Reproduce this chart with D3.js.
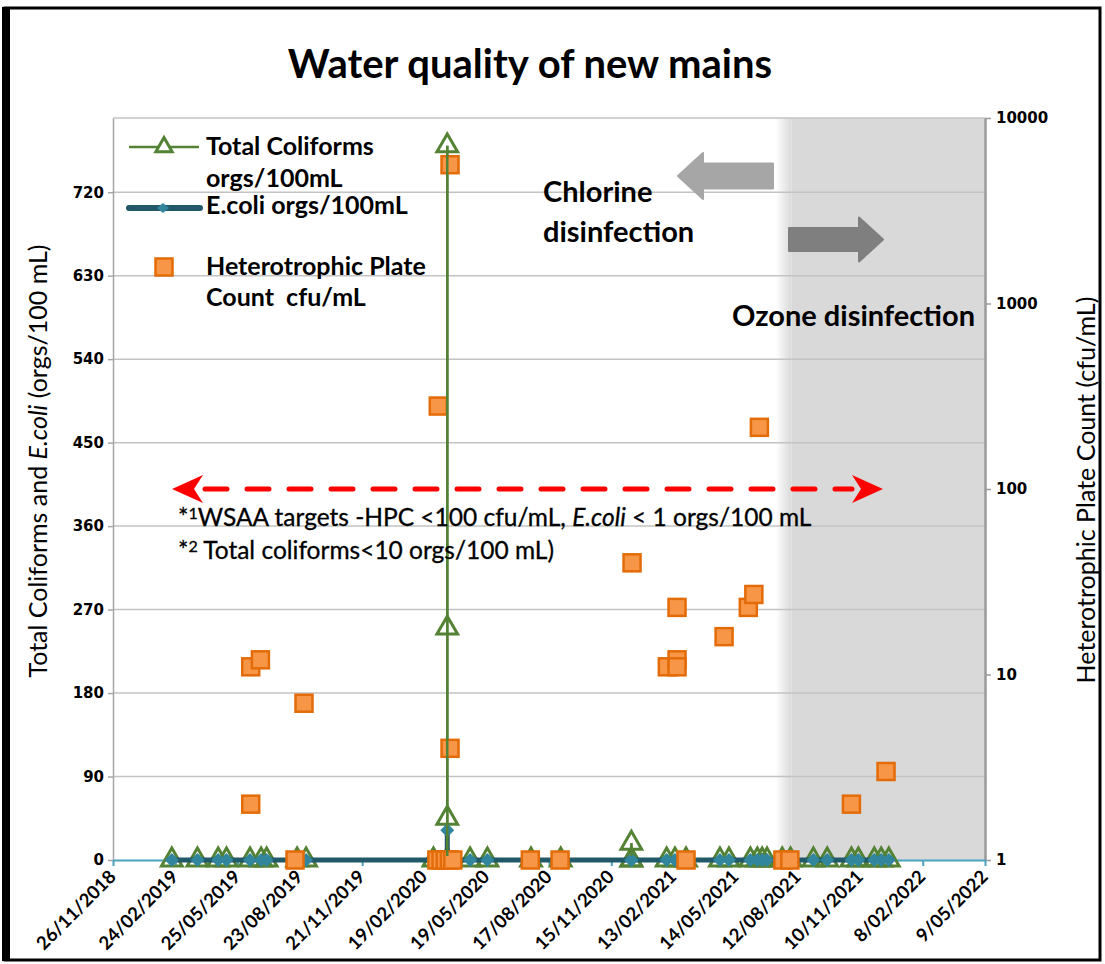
<!DOCTYPE html>
<html><head><meta charset="utf-8">
<script src="https://cdn.jsdelivr.net/npm/d3@7"></script>
<style>body{margin:0;background:#fff}svg{display:block}</style>
</head><body>
<script>
// ---------------- DATA ----------------
const tcDates = ["2019-02-19","2019-03-28","2019-04-27","2019-05-09","2019-06-12","2019-06-28","2019-07-06","2019-08-19","2019-09-01",
  "2020-03-03","2020-03-23","2020-03-23","2020-03-23","2020-03-23","2020-03-23","2020-04-25","2020-05-20","2020-07-22","2020-09-03",
  "2020-12-14","2020-12-14","2020-12-14","2021-02-03","2021-02-15","2021-03-03","2021-04-21","2021-05-04","2021-06-04","2021-06-14",
  "2021-06-21","2021-06-28","2021-07-20","2021-08-01","2021-09-03","2021-09-23","2021-10-28","2021-11-07","2021-11-30",
  "2021-12-10","2021-12-21"];
const tcValues = [0,0,0,0,0,0,0,0,0,
  0,0,45,770,250,0,0,0,0,0,
  0,18,0,0,0,0,0,0,0,0,
  0,0,0,0,0,0,0,0,0,
  0,0];
const ecDates = tcDates;
const ecValues = [0,0,0,0,0,0,0,0,0,
  0,0,32,0,0,0,0,0,0,0,
  0,0,0,0,0,0,0,0,0,0,
  0,0,0,0,0,0,0,0,0,
  0,0];
const hpcDates = ["2019-06-13","2019-06-13","2019-06-27","2019-08-16","2019-08-29",
  "2020-03-08","2020-03-10","2020-03-14","2020-03-20","2020-03-26","2020-03-27","2020-03-27","2020-03-31",
  "2020-07-21","2020-09-02","2020-12-15","2021-02-04","2021-02-18","2021-02-18","2021-02-18","2021-03-03",
  "2021-04-27","2021-06-01","2021-06-09","2021-06-17","2021-07-21","2021-07-31","2021-10-28","2021-12-17"];
const hpcValues = [2,11,12,1,7,
  1,280,1,1,1,5600,4,1,
  1,1,40,11,12,11,23,1,
  16,23,27,215,1,1,2,3];
const xTickLabels = ["26/11/2018","24/02/2019","25/05/2019","23/08/2019","21/11/2019","19/02/2020","19/05/2020",
  "17/08/2020","15/11/2020","13/02/2021","14/05/2021","12/08/2021","10/11/2021","8/02/2022","9/05/2022"];
const leftTicks = [0,90,180,270,360,450,540,630,720];
const leftMax = 800;
const rightTicks = [1,10,100,1000,10000];
const ozoneStart = "2021-07-22";
const hpcTarget = 100;

// ---------------- LAYOUT ----------------
const W = 1105, H = 964;
const L = 113, R = 985, T = 118, B = 860;
const C = {tc:"#548235", ec:"#215968", ecPt:"#31859c", hpcFill:"#f79646", hpcStroke:"#e36c09",
  grid:"#c3c3c3", axisGray:"#a6a6a6", xaxis:"#4aa3bd", shade:"#d9d9d9"};
const calibri = "Lato, 'Open Sans', sans-serif";
const numFont = "'DejaVu Sans', Verdana, sans-serif";

const pd = d3.utcParse("%Y-%m-%d");
const pl = d3.utcParse("%d/%m/%Y");
const fmt = d3.utcFormat("%-d/%m/%Y");
const tickDates = xTickLabels.map(pl);

const x = d3.scaleUtc().domain([tickDates[0], tickDates[tickDates.length-1]]).range([L, R]);
const yL = d3.scaleLinear().domain([0, leftMax]).range([B, T]);
const yR = d3.scaleLog().domain([rightTicks[0], rightTicks[rightTicks.length-1]]).range([B, T]);

const tc = tcDates.map((d,i)=>({date:pd(d), v:tcValues[i]}));
const ec = ecDates.map((d,i)=>({date:pd(d), v:ecValues[i]}));
const hpc = hpcDates.map((d,i)=>({date:pd(d), v:hpcValues[i]}));

const svg = d3.select("body").append("svg").attr("width", W).attr("height", H);
const defs = svg.append("defs");

// frame
svg.append("rect").attr("x",0).attr("y",0).attr("width",W).attr("height",H).attr("fill","#fff");
svg.append("rect").attr("x",5).attr("y",8).attr("width",1095).attr("height",952)
  .attr("fill","none").attr("stroke","#000").attr("stroke-width",3);
svg.append("rect").attr("x",2).attr("y",7).attr("width",8).attr("height",954).attr("fill","#000");

// ozone shading
const xo = x(pd(ozoneStart));
const grad = defs.append("linearGradient").attr("id","shadeGrad").attr("x1","0").attr("x2","1").attr("y1","0").attr("y2","0");
grad.append("stop").attr("offset","0").attr("stop-color","#fff");
grad.append("stop").attr("offset","1").attr("stop-color",C.shade);
svg.append("rect").attr("x",xo-8).attr("y",T).attr("width",16).attr("height",B-T).attr("fill","url(#shadeGrad)");
svg.append("rect").attr("x",xo+8).attr("y",T).attr("width",R-xo-8).attr("height",B-T).attr("fill",C.shade);

// gridlines
svg.append("g").selectAll("line").data(leftTicks.filter(d=>d>0).concat([leftMax])).join("line")
  .attr("x1",L).attr("x2",R).attr("y1",d=>yL(d)).attr("y2",d=>yL(d))
  .attr("stroke",C.grid).attr("stroke-width",1.5);

// left axis
const gL = svg.append("g").attr("transform",`translate(${L},0)`)
  .call(d3.axisLeft(yL).tickValues(leftTicks).tickSize(5).tickSizeOuter(0).tickPadding(4));
gL.select(".domain").attr("stroke",C.axisGray).attr("stroke-width",1.5);
gL.selectAll(".tick line").attr("stroke",C.axisGray).attr("stroke-width",1.5);
gL.selectAll(".tick text").attr("font-family",numFont).attr("font-weight","bold").attr("font-size",15).attr("fill","#000");

// right axis
const gR = svg.append("g").attr("transform",`translate(${R},0)`)
  .call(d3.axisRight(yR).tickValues(rightTicks).tickFormat(d3.format("d")).tickSize(6).tickSizeOuter(0).tickPadding(5));
gR.select(".domain").attr("stroke","#9a9a9a").attr("stroke-width",2.5);
gR.selectAll(".tick line").attr("stroke","#9a9a9a").attr("stroke-width",1.5);
gR.selectAll(".tick text").attr("font-family",numFont).attr("font-weight","bold").attr("font-size",15).attr("fill","#000");

// x axis
const gX = svg.append("g").attr("transform",`translate(0,${B})`)
  .call(d3.axisBottom(x).tickValues(tickDates).tickFormat("").tickSize(6).tickSizeOuter(0));
gX.select(".domain").attr("stroke",C.xaxis).attr("stroke-width",2);
gX.selectAll(".tick line").attr("stroke",C.xaxis).attr("stroke-width",2);
svg.append("g").selectAll("text").data(tickDates).join("text")
  .attr("transform",d=>`translate(${x(d)+4},${B+18}) rotate(-45)`)
  .attr("text-anchor","end").attr("font-family",calibri).attr("font-weight","bold").attr("font-size",18.5)
  .attr("fill","#000").text(d=>fmt(d));

// ---- series ----
const clip = defs.append("clipPath").attr("id","aboveBase");
clip.append("rect").attr("x",0).attr("y",0).attr("width",W).attr("height",B-4);

const tcLine = d3.line().x(d=>x(d.date)).y(d=>yL(d.v));
const triSym = d3.symbol().type(d3.symbolTriangle).size(185);
const diamond = (hw,hh)=>{const p=d3.path();p.moveTo(0,-hh);p.lineTo(hw,0);p.lineTo(0,hh);p.lineTo(-hw,0);p.closePath();return p.toString();};

// Total coliforms
svg.append("path").datum(tc).attr("d",tcLine).attr("fill","none").attr("stroke",C.tc).attr("stroke-width",2.5);
svg.append("g").selectAll("path").data(tc).join("path")
  .attr("transform",d=>`translate(${x(d.date)},${yL(d.v)})`).attr("d",triSym)
  .attr("fill","none").attr("stroke",C.tc).attr("stroke-width",3);

// E.coli
svg.append("path").datum(ec).attr("d",tcLine).attr("fill","none").attr("stroke",C.ec).attr("stroke-width",5);
svg.append("g").selectAll("path").data(ec).join("path")
  .attr("transform",d=>`translate(${x(d.date)},${yL(d.v)})`).attr("d",diamond(7,7))
  .attr("fill",C.ecPt);

// HPC
const sq = 17;
svg.append("g").selectAll("rect").data(hpc).join("rect")
  .attr("x",d=>x(d.date)-sq/2).attr("y",d=>yR(d.v)-sq/2).attr("width",sq).attr("height",sq)
  .attr("fill",C.hpcFill).attr("stroke",C.hpcStroke).attr("stroke-width",2.5);

// TC line visible over squares above baseline
svg.append("path").datum(tc).attr("d",tcLine).attr("fill","none").attr("stroke",C.tc).attr("stroke-width",2.5)
  .attr("clip-path","url(#aboveBase)");

// ---- legend ----
const lg = svg.append("g");
lg.append("line").attr("x1",129).attr("x2",199).attr("y1",147).attr("y2",147).attr("stroke",C.tc).attr("stroke-width",2.5);
lg.append("path").attr("transform","translate(164,147)").attr("d",d3.symbol().type(d3.symbolTriangle).size(115)).attr("fill","#fff").attr("stroke",C.tc).attr("stroke-width",3);
lg.append("line").attr("x1",129).attr("x2",200).attr("y1",208).attr("y2",208).attr("stroke",C.ec).attr("stroke-width",6).attr("stroke-linecap","round");
lg.append("path").attr("transform","translate(163,208)").attr("d",diamond(6,5)).attr("fill",C.ecPt);
lg.append("rect").attr("x",164-8.5).attr("y",267-8.5).attr("width",sq).attr("height",sq).attr("fill",C.hpcFill).attr("stroke",C.hpcStroke).attr("stroke-width",2.5);
const legendText = [["Total Coliforms",155],["orgs/100mL",187],["E.coli orgs/100mL",214],["Heterotrophic Plate",275],["Count\u00a0\u00a0cfu/mL",306]];
lg.selectAll("text").data(legendText).join("text").attr("x",206).attr("y",d=>d[1])
  .attr("font-family",calibri).attr("font-weight","bold").attr("font-size",25).attr("fill","#000").text(d=>d[0]);

// ---- title ----
svg.append("text").attr("x",530).attr("y",78).attr("text-anchor","middle")
  .attr("font-family",calibri).attr("font-weight","bold").attr("font-size",40).text("Water quality of new mains");

// ---- axis titles ----
const lt = svg.append("text").attr("transform","translate(47,461) rotate(-90)").attr("text-anchor","middle")
  .attr("font-family",calibri).attr("font-size",25).attr("fill","#000");
lt.append("tspan").text("Total Coliforms and ");
lt.append("tspan").attr("font-style","italic").text("E.coli");
lt.append("tspan").text(" (orgs/100 mL)");
svg.append("text").attr("transform","translate(1095,490) rotate(-90)").attr("text-anchor","middle")
  .attr("font-family",calibri).attr("font-size",25).attr("fill","#000").text("Heterotrophic Plate Count (cfu/mL)");

// ---- disinfection annotations ----
const ann = svg.append("g").attr("font-family",calibri).attr("font-weight","bold").attr("font-size",29).attr("fill","#000");
ann.append("text").attr("x",543).attr("y",202).text("Chlorine");
ann.append("text").attr("x",543).attr("y",242).text("disinfection");
ann.append("text").attr("x",975).attr("y",326).attr("text-anchor","end").text("Ozone disinfection");
// block arrows
const blockArrow = (tipX, cy, tailX, shaftH, headH, headL) => {
  const dir = tailX > tipX ? 1 : -1; const p = d3.path();
  p.moveTo(tipX, cy); p.lineTo(tipX+dir*headL, cy-headH/2); p.lineTo(tipX+dir*headL, cy-shaftH/2);
  p.lineTo(tailX, cy-shaftH/2); p.lineTo(tailX, cy+shaftH/2); p.lineTo(tipX+dir*headL, cy+shaftH/2);
  p.lineTo(tipX+dir*headL, cy+headH/2); p.closePath(); return p.toString();
};
svg.append("path").attr("d",blockArrow(678,176,773,25,46,25)).attr("fill","#a6a6a6").attr("stroke","#a6a6a6").attr("stroke-width",2).attr("stroke-linejoin","round");
svg.append("path").attr("d",blockArrow(883,239.5,789,23,44,24)).attr("fill","#7f7f7f").attr("stroke","#7f7f7f").attr("stroke-width",2).attr("stroke-linejoin","round");

// ---- target arrow ----
const yt = yR(hpcTarget);
svg.append("line").attr("x1",205).attr("x2",852).attr("y1",yt).attr("y2",yt)
  .attr("stroke","#ff0000").attr("stroke-width",5).attr("stroke-dasharray","22,20").attr("stroke-linecap","round");
const stealth = (tipX, cy, dir) => { const p = d3.path();
  p.moveTo(tipX, cy); p.lineTo(tipX-dir*31, cy-14); p.lineTo(tipX-dir*22, cy); p.lineTo(tipX-dir*31, cy+14); p.closePath(); return p.toString(); };
svg.append("path").attr("d",stealth(172,yt,-1)).attr("fill","#ff0000");
svg.append("path").attr("d",stealth(883,yt,1)).attr("fill","#ff0000");

// ---- footnotes ----
const fn = svg.append("g").attr("font-family",calibri).attr("font-size",24.5).attr("fill","#000")
  .attr("stroke","#000").attr("stroke-width",0.3);
const f1 = fn.append("text").attr("x",178).attr("y",526);
f1.append("tspan").text("*");
f1.append("tspan").attr("font-size",16).attr("dy",-7).text("1");
f1.append("tspan").attr("dy",7).text("WSAA targets -HPC <100 cfu/mL, ");
f1.append("tspan").attr("font-style","italic").text("E.coli");
f1.append("tspan").text(" < 1 orgs/100 mL");
const f2 = fn.append("text").attr("x",178).attr("y",559);
f2.append("tspan").text("*");
f2.append("tspan").attr("font-size",16).attr("dy",-7).text("2");
f2.append("tspan").attr("dy",7).text(" Total coliforms<10 orgs/100 mL)");
</script>
</body></html>
